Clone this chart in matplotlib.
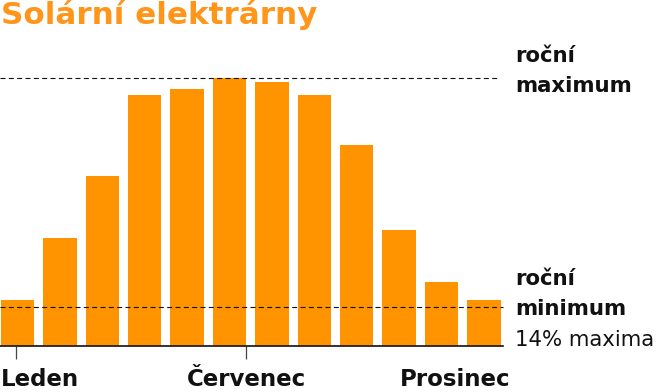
import matplotlib
matplotlib.use("Agg")
import matplotlib.pyplot as plt
from matplotlib.transforms import blended_transform_factory

# ---- data (percent of annual maximum) ----
months = ["Leden", "Únor", "Březen", "Duben", "Květen", "Červen",
          "Červenec", "Srpen", "Září", "Říjen", "Listopad", "Prosinec"]
values = [17.2, 40.5, 63.6, 93.9, 95.9, 100.0, 98.5, 93.9, 75.0, 43.4, 23.8, 17.2]
annual_max = 100.0
annual_min_line = 14.7
tick_positions = [-0.03, 5.38]
axis_labels = ["Leden", "Červenec", "Prosinec"]
axis_label_x = [-0.40, 5.41, 10.33]
axis_label_ha = ["left", "center", "center"]
title = "Solární elektrárny"
max_label = ["roční", "maximum"]
min_label = ["roční", "minimum"]
min_note = "14% maxima"

BAR = "#FF9300"
TITLE_C = "#FF9519"

W, H = 660, 392
fig = plt.figure(figsize=(W / 100, H / 100), dpi=100)

# axes placement in pixels
ax_left_px, ax_right_px = 0, 503
ax_base_px, ax_top_px = 346, 78.3
ax = fig.add_axes([ax_left_px / W, (H - ax_base_px) / H,
                   (ax_right_px - ax_left_px) / W, (ax_base_px - ax_top_px) / H])

x = list(range(len(values)))
ax.bar(x, values, width=0.785, color=BAR, edgecolor="none")
ax.set_xlim(-0.413, 11.45)
ax.set_ylim(0, annual_max)

for s in ["top", "right", "left"]:
    ax.spines[s].set_visible(False)
ax.spines["bottom"].set_color("#111111")
ax.spines["bottom"].set_linewidth(1.2)
ax.set_yticks([])
ax.set_xticks(tick_positions)
ax.set_xticklabels([])
ax.tick_params(axis="x", length=9.5, width=0.9, color="#444444", direction="out")

ax.axhline(annual_max, color="#111111", lw=0.8, ls=(0, (4.5, 3)), clip_on=False,
           xmax=500 / 503)
ax.axhline(annual_min_line, color="#111111", lw=0.8, ls=(0, (4.5, 3)), clip_on=False)

# month labels
tr = blended_transform_factory(ax.transData, fig.transFigure)
for lab, xx, ha in zip(axis_labels, axis_label_x, axis_label_ha):
    ax.text(xx, (H - 386.5) / H, lab, transform=tr, ha=ha, va="baseline",
            fontsize=16.5, fontweight="bold", color="#111111")

# title
fig.text(1 / W, (H - 24) / H, title, ha="left", va="baseline",
         fontsize=22.3, fontweight="bold", color=TITLE_C)

# right annotations
rx = 515 / W
for lab, yb in zip(max_label, [62, 92]):
    fig.text(rx, (H - yb) / H, lab, ha="left", va="baseline",
             fontsize=15.3, fontweight="bold", color="#111111")
for lab, yb in zip(min_label, [285, 315]):
    fig.text(rx, (H - yb) / H, lab, ha="left", va="baseline",
             fontsize=15.3, fontweight="bold", color="#111111")
fig.text(rx, (H - 346) / H, min_note, ha="left", va="baseline",
         fontsize=15.3, color="#111111")

fig.savefig("out.png", dpi=100)
